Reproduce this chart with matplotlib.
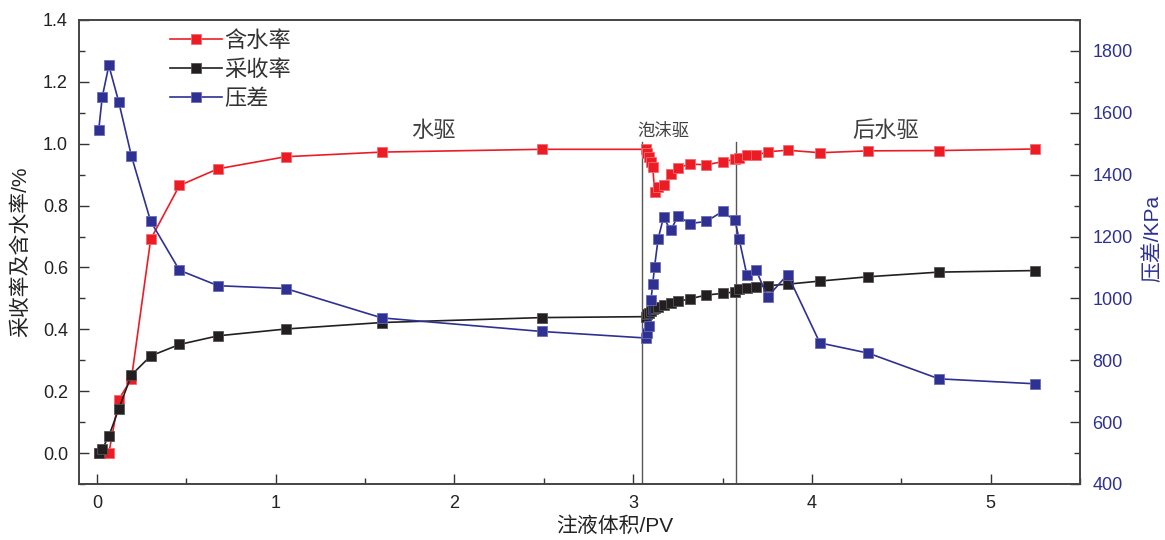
import matplotlib
matplotlib.use("Agg")
import matplotlib.pyplot as plt
from matplotlib.ticker import MultipleLocator

plt.rcParams['font.family'] = ['Liberation Sans', 'Noto Sans CJK SC', 'DejaVu Sans']

# Injected volume (PV) for each sample: water flood, foam flood, subsequent water flood
pv = [0.01, 0.03, 0.067, 0.122, 0.193, 0.301, 0.462, 0.678, 1.056, 1.594, 2.491,
      3.07, 3.08, 3.09, 3.10, 3.11, 3.12, 3.14, 3.17, 3.21, 3.25, 3.32, 3.41, 3.50, 3.57,
      3.593, 3.636, 3.687, 3.752, 3.864, 4.045, 4.316, 4.711, 5.247]

# Water cut (fraction)
water_cut = [0.0, 0.0, 0.0, 0.173, 0.239, 0.691, 0.865, 0.919, 0.958, 0.973, 0.982,
             0.982, 0.969, 0.956, 0.942, 0.926, 0.845, 0.861, 0.867, 0.901, 0.923, 0.934, 0.932, 0.942, 0.950,
             0.955, 0.964, 0.962, 0.974, 0.979, 0.971, 0.977, 0.978, 0.983]

# Recovery factor (fraction)
recovery = [0.0, 0.013, 0.055, 0.142, 0.252, 0.314, 0.351, 0.379, 0.401, 0.422, 0.438,
            0.441, 0.448, 0.454, 0.460, 0.465, 0.468, 0.472, 0.478, 0.485, 0.490, 0.499, 0.511, 0.516, 0.521,
            0.530, 0.535, 0.538, 0.541, 0.546, 0.556, 0.570, 0.585, 0.590]

# Pressure difference (kPa)
pressure = [1543, 1651, 1753, 1636, 1461, 1249, 1091, 1041, 1032, 937, 893,
            872, 888, 910, 996, 1048, 1103, 1193, 1262, 1220, 1265, 1242, 1249, 1281, 1252,
            1192, 1077, 1093, 1005, 1077, 856, 823, 740, 724]

# Stage boundaries and stage names
stage_bounds = [3.05, 3.575]
stage_names = ["水驱", "泡沫驱", "后水驱"]
stage_label_x = [1.88, 3.17, 4.41]
stage_label_size = [16, 12.5, 16]

RED = "#ED1C24"
BLACK = "#231F20"
BLUE = "#2E3192"
GRAY = "#404040"

fig = plt.figure(figsize=(11.65, 5.40), dpi=100)
ax = fig.add_axes([79 / 1165, 1 - 484 / 540, (1080 - 79) / 1165, (484 - 20) / 540])
ax2 = ax.twinx()

mk = dict(marker="s", markersize=6.5, markeredgewidth=0.6, linewidth=1.2)
l1, = ax.plot(pv, water_cut, color=RED, markerfacecolor=RED, markeredgecolor="#F26B70", label="含水率", **mk)
l2, = ax.plot(pv, recovery, color=BLACK, markerfacecolor=BLACK, markeredgecolor="#555555", label="采收率", **mk)
l3, = ax2.plot(pv, pressure, color=BLUE, markerfacecolor=BLUE, markeredgecolor="#6A6CB8", label="压差", **mk)

for xb in stage_bounds:
    ax.plot([xb, xb], [-0.1, 1.004], color="#555555", linewidth=1.0, zorder=1)

for name, xs, fs in zip(stage_names, stage_label_x, stage_label_size):
    ax.text(xs, 1.04, name, ha="center", va="center", fontsize=fs, color=GRAY)

ax.set_xlim(-0.1, 5.5)
ax.set_ylim(-0.1, 1.4)
ax2.set_ylim(400, 1900)

ax.xaxis.set_major_locator(MultipleLocator(1))
ax.xaxis.set_minor_locator(MultipleLocator(0.5))
ax.yaxis.set_major_locator(MultipleLocator(0.2))
ax.yaxis.set_minor_locator(MultipleLocator(0.1))
ax2.yaxis.set_major_locator(MultipleLocator(200))
ax2.yaxis.set_minor_locator(MultipleLocator(100))
ax2.set_yticks([400, 600, 800, 1000, 1200, 1400, 1600, 1800])

ax.yaxis.set_major_formatter(plt.FuncFormatter(lambda v, p: f"{v:.1f}"))

ax.tick_params(axis="both", which="both", direction="in", top=False, right=False,
               labelsize=13, colors="#333333", labelcolor="#222222")
ax.tick_params(axis="both", which="major", length=7, width=1.0)
ax.tick_params(axis="both", which="minor", length=4, width=1.0)
ax.tick_params(axis="x", which="major", pad=8)
ax.tick_params(axis="y", which="major", pad=8)
ax2.tick_params(axis="y", which="both", direction="in", labelsize=13, colors="#333333",
                labelcolor=BLUE, pad=9)
ax2.tick_params(axis="y", which="major", length=7, width=1.0)
ax2.tick_params(axis="y", which="minor", length=4, width=1.0)

for a in (ax, ax2):
    for s in a.spines.values():
        s.set_color("#444444")
        s.set_linewidth(1.2)

ax.set_xlabel("注液体积/PV", fontsize=15, color="#222222")
ax.xaxis.set_label_coords(0.535, -0.069)
ax.set_ylabel("采收率及含水率/%", fontsize=15, color="#222222")
ax.yaxis.set_label_coords(-0.049, 0.5)
ax2.set_ylabel("压差/KPa", fontsize=15, color=BLUE)
ax2.yaxis.set_label_coords(1.063, 0.53)

leg = ax.legend(handles=[l1, l2, l3], loc="upper left",
                bbox_to_anchor=(170 / 1165, 1 - 31 / 540), bbox_transform=fig.transFigure,
                frameon=False, fontsize=16, handlelength=2.35, handletextpad=0.1,
                labelspacing=0.36, borderpad=0, borderaxespad=0)
for t in leg.get_texts():
    t.set_color("#333333")

fig.savefig("out.png", dpi=100)
